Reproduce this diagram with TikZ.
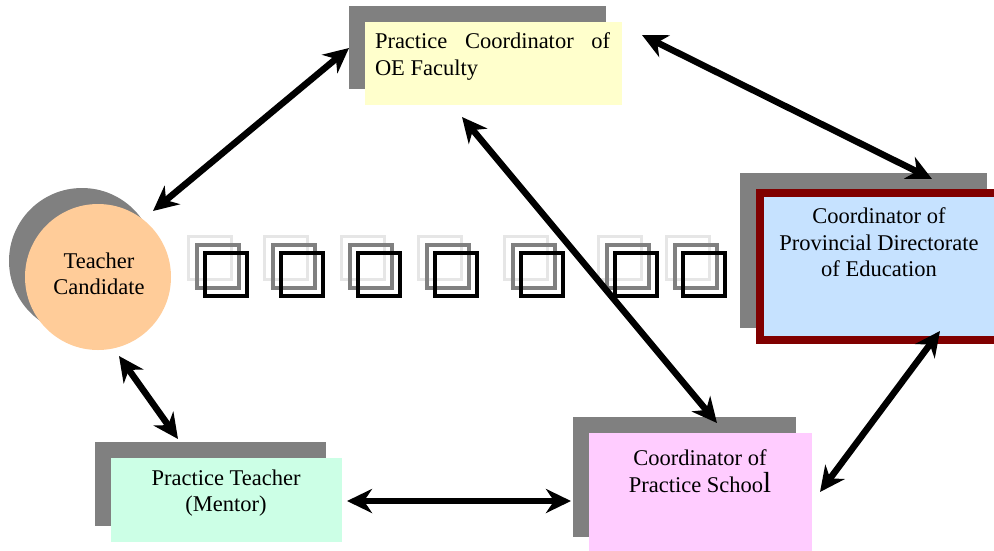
\documentclass[tikz,border=0pt]{standalone}
\usepackage{fontspec}
\setmainfont{Liberation Serif}
\usetikzlibrary{arrows.meta}
\definecolor{shadowgray}{HTML}{808080}
\definecolor{yellowfill}{HTML}{FFFFCC}
\definecolor{bluefill}{HTML}{C6E2FF}
\definecolor{pinkfill}{HTML}{FFCCFF}
\definecolor{mintfill}{HTML}{CCFFE6}
\definecolor{peachfill}{HTML}{FFCC99}
\definecolor{darkred}{HTML}{800000}
\definecolor{glyphlight}{HTML}{E6E6E6}
\definecolor{glyphmid}{HTML}{808080}
\tikzset{
  plainbox/.style={rectangle, inner sep=0pt, outer sep=0pt, draw=none},
  shadowbox/.style={plainbox, fill=shadowgray},
  lbl/.style={font=\fontsize{22.5}{27}\selectfont, anchor=base, inner sep=0pt, outer sep=0pt},
  lblw/.style={lbl, anchor=base west},
  tipshape/.tip={Stealth[length=25pt,width=24pt,inset=8pt]},
  link/.style={line width=6.5pt, black, tipshape-tipshape},
  glyphL/.style={draw=glyphlight, line width=3pt},
  glyphM/.style={draw=glyphmid, line width=4pt},
  glyphK/.style={draw=black, line width=4.5pt}
}
\begin{document}
\begin{tikzpicture}[x=1pt,y=-1pt]
\useasboundingbox (0,0) rectangle (994,550);
\begin{scope}
\clip (0,0) rectangle (994,550);
% ---- top box: Practice Coordinator of OE Faculty
\node[shadowbox, minimum width=257pt, minimum height=83pt] (topS) at (477.5,47.5) {};
\node[plainbox, fill=yellowfill, minimum width=257pt, minimum height=83pt] (top) at (493.5,63.5) {};
\node[lblw] (topt1) at (375,48) {\makebox[235pt][s]{Practice Coordinator of}};
\node[lblw] (topt2) at (375,75) {OE Faculty};
% ---- right box: Coordinator of Provincial Directorate of Education
\node[shadowbox, minimum width=247pt, minimum height=155pt] (provS) at (863.5,250.5) {};
\node[plainbox, fill=bluefill, draw=darkred, line width=8pt, minimum width=239pt, minimum height=147pt] (prov) at (879.5,266.5) {};
\node[lbl] (provt1) at (879,223) {Coordinator of};
\node[lbl] (provt2) at (879,250) {Provincial Directorate};
\node[lbl] (provt3) at (879,276) {of Education};
% ---- pink box: Coordinator of Practice School
\node[shadowbox, minimum width=223pt, minimum height=120pt] (schoolS) at (684.5,477) {};
\node[plainbox, fill=pinkfill, minimum width=223pt, minimum height=120pt] (school) at (700.5,493) {};
\node[lbl] (schoolt1) at (700,465) {Coordinator of};
\node[lbl] (schoolt2) at (700,492) {Practice Schoo{\fontsize{29}{29}\selectfont l}};
% ---- green box: Practice Teacher (Mentor)
\node[shadowbox, minimum width=231pt, minimum height=84pt] (mentorS) at (210.5,484) {};
\node[plainbox, fill=mintfill, minimum width=231pt, minimum height=84pt] (mentor) at (226.5,500) {};
\node[lbl] (mentort1) at (226,485) {Practice Teacher};
\node[lbl] (mentort2) at (226,511) {(Mentor)};
% ---- circle: Teacher Candidate
\node[circle, fill=shadowgray, inner sep=0pt, minimum size=146pt] (candS) at (82,261) {};
\node[circle, fill=peachfill, inner sep=0pt, minimum size=146pt] (cand) at (98,277) {};
\node[lbl] (candt1) at (99,268) {Teacher};
\node[lbl] (candt2) at (99,294) {Candidate};
% ---- missing-glyph boxes
\foreach \L in {187,263,340,417,503,597,665}{
  \draw[glyphL] (\L+1.5,236.5) rectangle (\L+44.5,279.5);
  \draw[glyphM] (\L+10,245) rectangle (\L+52,288);
  \draw[glyphK] (\L+18,253) rectangle (\L+60,296);
}
% ---- connector end points
\coordinate (a1top) at (349,48);
\coordinate (a1cand) at (153,211);
\coordinate (a2top) at (642,35);
\coordinate (a2prov) at (932,179);
\coordinate (a3top) at (462,117);
\coordinate (a3school) at (717,423);
\coordinate (a4prov) at (940,331);
\coordinate (a4school) at (820,492);
\coordinate (a5mentor) at (347,501);
\coordinate (a5school) at (571,501);
\coordinate (a6cand) at (119,356);
\coordinate (a6mentor) at (178,439);
% ---- connectors
\draw[link] (a1cand) -- (a1top);
\draw[link] (a2top) -- (a2prov);
\draw[link] (a3top) -- (a3school);
\draw[link] (a4prov) -- (a4school);
\draw[link] (a5mentor) -- (a5school);
\draw[link] (a6cand) -- (a6mentor);
\end{scope}
\end{tikzpicture}
\end{document}
